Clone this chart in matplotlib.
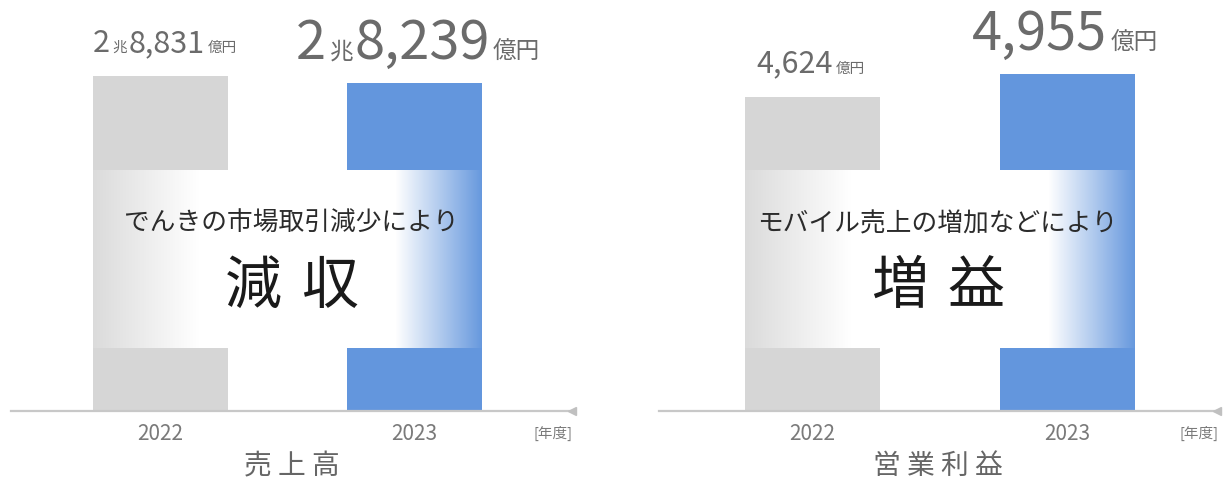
import matplotlib
matplotlib.use("Agg")
import matplotlib.pyplot as plt
import numpy as np
from matplotlib.transforms import offset_copy

plt.rcParams['font.family'] = ['Noto Sans CJK JP', 'DejaVu Sans']

# ---- data ----
years = ['2022', '2023']
sales = [28831, 28239]      # 億円
profit = [4624, 4955]       # 億円
panel_titles = ['売上高', '営業利益']
band_notes = ['でんきの市場取引減少により', 'モバイル売上の増加などにより']
band_words = [['減', '収'], ['増', '益']]
unit_label = '[年度]'
bar_colors = ['#d6d6d6', '#6396dd']

# ---- layout (pixels of the 1224x482 canvas) ----
W, H = 1224, 482
fig = plt.figure(figsize=(W / 100, H / 100), dpi=100)
AXIS_Y = 411

panels = [
    dict(vals=sales, x0=11, x1=572, c0=160.5, c1=414.0, ymax=28831 * 411 / 335, tx=4),
    dict(vals=profit, x0=659, x1=1217, c0=812.5, c1=1067.0, ymax=4955 * 411 / 337, tx=-2),
]

def fmt_value(v):
    cho, oku = divmod(v, 10000)
    pieces = []
    if cho:
        pieces.append((str(cho), 'num'))
        pieces.append(('兆', 'unit'))
    pieces.append((f'{oku:,}', 'num'))
    pieces.append(('億円', 'unit'))
    return pieces

fig.canvas.draw()
renderer = fig.canvas.get_renderer()

for i, p in enumerate(panels):
    ax = fig.add_axes([p['x0'] / W, (H - AXIS_Y) / H, (p['x1'] - p['x0']) / W, AXIS_Y / H])
    spacing = p['c1'] - p['c0']
    bw = 135 / spacing
    xl = (-(p['c0'] - p['x0']) / spacing, 1 + (p['x1'] - p['c1']) / spacing)
    x = np.arange(len(years))
    ax.bar(x, p['vals'], width=bw, color=bar_colors, zorder=2)
    for s in ['top', 'right', 'left']:
        ax.spines[s].set_visible(False)
    ax.spines['bottom'].set_color('#c8c8c8')
    ax.spines['bottom'].set_linewidth(1.6)
    ax.set_yticks([])
    ax.set_xticks(x)
    ax.set_xticklabels(years, fontsize=15, color='#7a7a7a')
    ax.tick_params(axis='x', length=0, pad=9)
    ax.plot([xl[1]], [0], marker='<', markersize=6, color='#c0c0c0',
            clip_on=False, zorder=3)
    ax.text(0.967, -22 / AXIS_Y, unit_label, transform=ax.transAxes,
            fontsize=10.5, color='#7a7a7a', ha='center', va='center')
    ax.text(0.5, -55 / AXIS_Y, ' '.join(panel_titles[i]),
            transform=ax.transAxes, fontsize=20, color='#666666',
            ha='center', va='center')

    # gradient band
    band_top = p['ymax'] * (AXIS_Y - 170) / AXIS_Y
    band_bot = p['ymax'] * (AXIS_Y - 348) / AXIS_Y
    t = np.linspace(0, 1, 400)
    alpha = np.interp(t, [0, 0.27, 0.78, 1.0], [0.12, 1.0, 1.0, 0.03])
    img = np.ones((1, len(t), 4))
    img[0, :, 3] = alpha
    ax.imshow(img, extent=[-bw / 2, 1 + bw / 2, band_bot, band_top],
              aspect='auto', zorder=4, interpolation='bilinear')
    ax.set_xlim(*xl)
    ax.set_ylim(0, p['ymax'])

    tr = offset_copy(ax.transData, fig=fig, x=p['tx'], y=0, units='dots')
    ax.text(0.5, p['ymax'] * (AXIS_Y - 224) / AXIS_Y, band_notes[i], transform=tr,
            fontsize=18.5, color='#2b2b2b', ha='center', va='center', zorder=5)
    for k, ch in enumerate(band_words[i]):
        trk = offset_copy(ax.transData, fig=fig, x=p['tx'] + (k - 0.5) * 76, y=0, units='dots')
        ax.text(0.5, p['ymax'] * (AXIS_Y - 287) / AXIS_Y, ch, transform=trk,
                fontsize=41, color='#1a1a1a', ha='center', va='center', zorder=5)

    # value labels with mixed sizes
    for j, v in enumerate(p['vals']):
        big = (j == 1)
        num_fs = 39 if big else 22
        unit_fs = 17 if big else 10.5
        pieces = fmt_value(v)
        texts = []
        for s, kind in pieces:
            fs = num_fs if kind == 'num' else unit_fs
            tt = ax.text(j, v, s, fontsize=fs, color='#6b6b6b',
                         ha='left', va='baseline', zorder=5)
            texts.append((tt, kind))
        fig.canvas.draw()
        widths = [tt.get_window_extent(renderer).width for tt, _ in texts]
        gaps = [3 if k == 'unit' else 1 for _, k in texts]
        total = sum(widths) + sum(gaps[1:])
        cur = -total / 2 + p['tx']
        for n, ((tt, k), w, g) in enumerate(zip(texts, widths, gaps)):
            if n > 0:
                cur += g
            tt.set_transform(offset_copy(ax.transData, fig=fig, x=cur, y=24, units='dots'))
            cur += w

fig.savefig('out.png', dpi=100, facecolor='white')
